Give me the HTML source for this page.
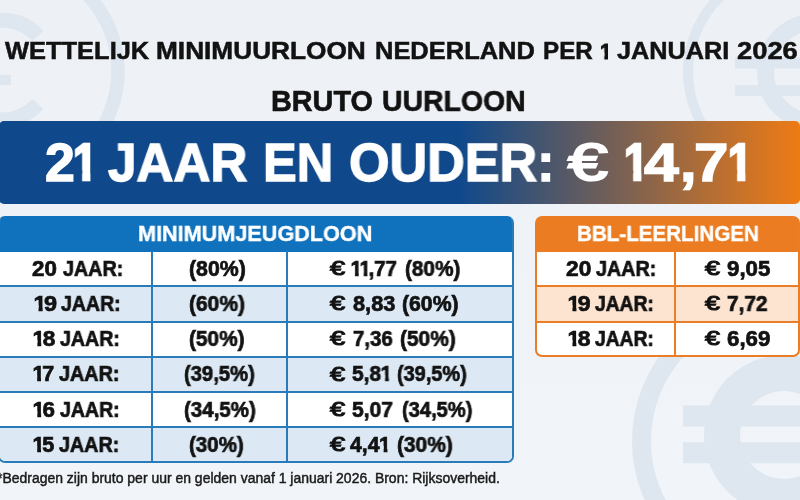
<!DOCTYPE html>
<html lang="nl">
<head>
<meta charset="utf-8">
<title>Wettelijk minimuurloon Nederland per 1 januari 2026</title>
<style>
  html, body { margin: 0; padding: 0; background: #eff2f7; }
  #stage { position: relative; width: 800px; height: 500px; overflow: hidden; background: #eff2f7;
           font-family: "Liberation Sans", sans-serif; }
  #stage > * { position: absolute; }
  .g { left: 0; top: 0; margin: 0; padding: 0; font: inherit; }
  .t { position: absolute; line-height: 1; white-space: nowrap; transform-origin: 0 0; will-change: transform; }
  .o { display: inline-block; font-weight: inherit; margin-right: -0.11em; margin-left: -0.02em;
       clip-path: polygon(0 -10%, 0.392em -10%, 0.392em 110%, 0.214em 110%, 0.214em 0.56em, 0 0.56em); }
  svg.wm { left: 0; top: 0; width: 800px; height: 500px; }
  .banner { left: -1px; top: 121px; width: 800.5px; height: 82.5px; border-radius: 5px;
            background: linear-gradient(90deg, #10498b 0%, #10498b 57.5%, #ee7b15 100%); }
  .tbl { box-sizing: border-box; background: #fff; overflow: hidden; }
  .tbl > i { position: absolute; display: block; }
  .tl { left: -2px; top: 215.7px; width: 515.8px; height: 247.6px; border: 2.1px solid #2a7bb9; border-top-color: #1072bd; border-radius: 7px;
        background: linear-gradient(#1072bd 0, #1072bd 33.9px, #fff 33.9px); }
  .tr { left: 534.8px; top: 215.7px; width: 265px; height: 141px; border: 2.1px solid #ea7d25; border-radius: 7px;
        background: linear-gradient(#ec7c22 0, #ec7c22 33.9px, #fff 33.9px); }
</style>
</head>
<body>
<div id="stage">
  <svg class="wm" viewBox="0 0 800 500" aria-hidden="true">
    <defs>
      <linearGradient id="bgg" x1="0" y1="0" x2="0" y2="1">
        <stop offset="0" stop-color="#edf1f6"/><stop offset="1" stop-color="#f1f4f8"/>
      </linearGradient>
    </defs>
    <rect width="800" height="500" fill="url(#bgg)"/>
    <!-- top-left euro coin -->
    <g fill="none" stroke="#dee6ef">
      <circle cx="8" cy="71" r="110" stroke-width="13.5"/>
      <path d="M 38 36 A 50 50 0 1 0 38 104" stroke-width="15"/>
      <path d="M -40 80 H 11" stroke-width="10"/>
    </g>
    <!-- top-right euro coin -->
    <g fill="none" stroke="#dee6ef">
      <circle cx="792" cy="72" r="104" stroke-width="10"/>
      <path d="M 841 29 A 50 50 0 1 0 841 115" stroke-width="17"/>
      <path d="M 735 63 H 800 M 735 90.5 H 800" stroke-width="11"/>
    </g>
    <!-- bottom-right euro coin -->
    <g fill="none" stroke="#dee6ef">
      <circle cx="777" cy="441" r="135.5" stroke-width="19"/>
      <path d="M 815 381.3 A 62 62 0 1 0 815 488.7" stroke-width="36"/>
      <path d="M 683 416 H 800 M 683 452.7 H 800" stroke-width="21"/>
    </g>
  </svg>

  <div class="banner"></div>

  <div class="tbl tl">
    <i style="left:0;top:68.7px;width:520px;height:35.5px;background:#dce9f4"></i>
    <i style="left:0;top:138.9px;width:520px;height:35.8px;background:#dce9f4"></i>
    <i style="left:0;top:209.7px;width:520px;height:36px;background:#dce9f4"></i>
    <i style="left:0;top:67.75px;width:520px;height:2px;background:#2a7bb9"></i>
    <i style="left:0;top:103.35px;width:520px;height:2px;background:#2a7bb9"></i>
    <i style="left:0;top:138.05px;width:520px;height:2px;background:#2a7bb9"></i>
    <i style="left:0;top:173.75px;width:520px;height:2px;background:#2a7bb9"></i>
    <i style="left:0;top:208.75px;width:520px;height:2px;background:#2a7bb9"></i>
    <i style="left:151.4px;top:33.7px;width:2px;height:220px;background:#2a7bb9"></i>
    <i style="left:286.3px;top:33.7px;width:2px;height:220px;background:#2a7bb9"></i>
  </div>

  <div class="tbl tr">
    <i style="left:0;top:68.7px;width:270px;height:35.5px;background:#fce4d1"></i>
    <i style="left:0;top:67.75px;width:270px;height:2px;background:#ea7d25"></i>
    <i style="left:0;top:103.35px;width:270px;height:2px;background:#ea7d25"></i>
    <i style="left:137.4px;top:33.7px;width:2px;height:110px;background:#ea7d25"></i>
  </div>

<h1 class="g title"><span class="t" id="tw0" style="left:5.00px;top:39.93px;font-size:23.69px;font-weight:700;color:#121212;-webkit-text-stroke:0.5px #121212;transform:scaleX(1.0746)">WETTELIJK</span> <span class="t" id="tw1" style="left:156.17px;top:39.93px;font-size:23.69px;font-weight:700;color:#121212;-webkit-text-stroke:0.5px #121212;transform:scaleX(1.1070)">MINIMUURLOON</span> <span class="t" id="tw2" style="left:374.65px;top:39.93px;font-size:23.69px;font-weight:700;color:#121212;-webkit-text-stroke:0.5px #121212;transform:scaleX(1.0749)">NEDERLAND</span> <span class="t" id="tw3" style="left:543.23px;top:39.93px;font-size:23.69px;font-weight:700;color:#121212;-webkit-text-stroke:0.5px #121212;transform:scaleX(1.0213)">PER</span> <span class="t" id="tw4" style="left:599.84px;top:40.29px;font-size:22.97px;font-weight:700;color:#121212;-webkit-text-stroke:1.0px #121212;clip-path:polygon(0.57px -2.00px,9.01px -2.00px,9.01px 24.97px,4.86px 24.97px,4.86px 12.60px,0.57px 12.60px);transform:scaleX(0.8828)">1</span> <span class="t" id="tw5" style="left:617.27px;top:39.93px;font-size:23.69px;font-weight:700;color:#121212;-webkit-text-stroke:0.5px #121212;transform:scaleX(1.0673)">JANUARI</span> <span class="t" id="tw6" style="left:737.26px;top:39.93px;font-size:23.69px;font-weight:700;color:#121212;-webkit-text-stroke:0.5px #121212;transform:scaleX(1.1542)">2026</span></h1>
<h2 class="g subtitle"><span class="t" id="sub0" style="left:270.99px;top:86.90px;font-size:28.63px;font-weight:700;color:#121212;-webkit-text-stroke:0.6px #121212;transform:scaleX(1.0061)">BRUTO</span> <span class="t" id="sub1" style="left:382.01px;top:86.90px;font-size:28.63px;font-weight:700;color:#121212;-webkit-text-stroke:0.6px #121212;transform:scaleX(0.9930)">UURLOON</span></h2>
<p class="g headline"><span class="t" id="bw0" style="left:44.98px;top:135.88px;font-size:53.63px;font-weight:700;color:#ffffff;-webkit-text-stroke:1.4px #ffffff;transform:scaleX(1.0007)">2</span><span class="t" id="bw1" style="left:73.31px;top:136.75px;font-size:51.89px;font-weight:700;color:#ffffff;-webkit-text-stroke:2.6px #ffffff;clip-path:polygon(0.95px -2.00px,20.53px -2.00px,20.53px 53.89px,10.81px 53.89px,10.81px 33.34px,0.95px 33.34px);transform:scaleX(0.8459)">1</span> <span class="t" id="bw2" style="left:107.98px;top:135.88px;font-size:53.63px;font-weight:700;color:#ffffff;-webkit-text-stroke:1.4px #ffffff;transform:scaleX(0.9548)">JAAR</span> <span class="t" id="bw3" style="left:263.17px;top:135.88px;font-size:53.63px;font-weight:700;color:#ffffff;-webkit-text-stroke:1.4px #ffffff;transform:scaleX(0.9420)">EN</span> <span class="t" id="bw4" style="left:349.03px;top:135.88px;font-size:53.63px;font-weight:700;color:#ffffff;-webkit-text-stroke:1.4px #ffffff;transform:scaleX(0.9709)">OUDER:</span> <span class="t" id="bw5" style="left:568.36px;top:136.46px;font-size:52.47px;font-weight:400;color:#ffffff;-webkit-text-stroke:2.2px #ffffff;transform:scaleX(1.3556)">€</span> <span class="t" id="bw6" style="left:623.85px;top:136.75px;font-size:51.89px;font-weight:700;color:#ffffff;-webkit-text-stroke:2.6px #ffffff;clip-path:polygon(0.95px -2.00px,20.53px -2.00px,20.53px 53.89px,10.81px 53.89px,10.81px 33.34px,0.95px 33.34px);transform:scaleX(0.8459)">1</span><span class="t" id="bw7" style="left:643.70px;top:135.88px;font-size:53.63px;font-weight:700;color:#ffffff;-webkit-text-stroke:1.4px #ffffff;transform:scaleX(1.1670)">4</span><span class="t" id="bw8" style="left:680.39px;top:135.88px;font-size:53.63px;font-weight:700;color:#ffffff;-webkit-text-stroke:1.4px #ffffff;transform:scaleX(1.1111)">,</span><span class="t" id="bw9" style="left:693.98px;top:135.88px;font-size:53.63px;font-weight:700;color:#ffffff;-webkit-text-stroke:1.4px #ffffff;transform:scaleX(1.1543)">7</span><span class="t" id="bw10" style="left:728.31px;top:136.75px;font-size:51.89px;font-weight:700;color:#ffffff;-webkit-text-stroke:2.6px #ffffff;clip-path:polygon(0.95px -2.00px,20.53px -2.00px,20.53px 53.89px,10.81px 53.89px,10.81px 33.34px,0.95px 33.34px);transform:scaleX(0.8439)">1</span></p>
<h3 class="g head-left"><span class="t" id="h1" style="left:137.54px;top:222.79px;font-size:22.38px;font-weight:700;color:#ffffff;-webkit-text-stroke:0.4px #ffffff;transform:scaleX(0.9667)">MINIMUMJEUGDLOON</span></h3>
<h3 class="g head-right"><span class="t" id="h2" style="left:576.60px;top:222.79px;font-size:22.38px;font-weight:700;color:#ffffff;-webkit-text-stroke:0.4px #ffffff;transform:scaleX(0.9200)">BBL-LEERLINGEN</span></h3>
<p class="g row-left-0"><span class="t" id="n0" style="left:31.97px;top:257.72px;font-size:21.22px;font-weight:700;color:#121212;-webkit-text-stroke:0.7px #121212;transform:scaleX(1.0526)">20</span> <span class="t" id="j0" style="left:63.03px;top:257.72px;font-size:21.22px;font-weight:700;color:#121212;-webkit-text-stroke:0.7px #121212;transform:scaleX(0.9303)">JAAR:</span> <span class="t" id="p0" style="left:189.00px;top:257.72px;font-size:21.22px;font-weight:700;color:#121212;-webkit-text-stroke:0.7px #121212;transform:scaleX(1.0037)">(80%)</span> <span class="t" id="e0" style="left:329.95px;top:258.01px;font-size:20.64px;font-weight:400;color:#121212;-webkit-text-stroke:1.1px #121212;transform:scaleX(1.3180)">€</span> <span class="t" id="a0" style="left:351.03px;top:257.72px;font-size:21.22px;font-weight:700;color:#121212;-webkit-text-stroke:0.7px #121212;transform:scaleX(0.9654)"><b class="o">1</b><b class="o">1</b>,77</span> <span class="t" id="q0" style="left:405.02px;top:257.72px;font-size:21.22px;font-weight:700;color:#121212;-webkit-text-stroke:0.7px #121212;transform:scaleX(0.9783)">(80%)</span></p>
<p class="g row-left-1"><span class="t" id="n1" style="left:33.82px;top:292.92px;font-size:21.22px;font-weight:700;color:#121212;-webkit-text-stroke:0.7px #121212;transform:scaleX(1.1076)"><b class="o">1</b>9</span> <span class="t" id="j1" style="left:61.00px;top:292.92px;font-size:21.22px;font-weight:700;color:#121212;-webkit-text-stroke:0.7px #121212;transform:scaleX(0.9206)">JAAR:</span> <span class="t" id="p1" style="left:189.01px;top:292.92px;font-size:21.22px;font-weight:700;color:#121212;-webkit-text-stroke:0.7px #121212;transform:scaleX(0.9892)">(60%)</span> <span class="t" id="e1" style="left:329.95px;top:293.21px;font-size:20.64px;font-weight:400;color:#121212;-webkit-text-stroke:1.1px #121212;transform:scaleX(1.3180)">€</span> <span class="t" id="a1" style="left:353.00px;top:292.92px;font-size:21.22px;font-weight:700;color:#121212;-webkit-text-stroke:0.7px #121212;transform:scaleX(1.0244)">8,83</span> <span class="t" id="q1" style="left:402.01px;top:292.92px;font-size:21.22px;font-weight:700;color:#121212;-webkit-text-stroke:0.7px #121212;transform:scaleX(0.9928)">(60%)</span></p>
<p class="g row-left-2"><span class="t" id="n2" style="left:32.93px;top:328.12px;font-size:21.22px;font-weight:700;color:#121212;-webkit-text-stroke:0.7px #121212;transform:scaleX(1.0708)"><b class="o">1</b>8</span> <span class="t" id="j2" style="left:60.01px;top:328.12px;font-size:21.22px;font-weight:700;color:#121212;-webkit-text-stroke:0.7px #121212;transform:scaleX(0.9239)">JAAR:</span> <span class="t" id="p2" style="left:189.02px;top:328.12px;font-size:21.22px;font-weight:700;color:#121212;-webkit-text-stroke:0.7px #121212;transform:scaleX(0.9820)">(50%)</span> <span class="t" id="e2" style="left:329.95px;top:328.41px;font-size:20.64px;font-weight:400;color:#121212;-webkit-text-stroke:1.1px #121212;transform:scaleX(1.3180)">€</span> <span class="t" id="a2" style="left:353.00px;top:328.12px;font-size:21.22px;font-weight:700;color:#121212;-webkit-text-stroke:0.7px #121212;transform:scaleX(0.9612)">7,36</span> <span class="t" id="q2" style="left:400.02px;top:328.12px;font-size:21.22px;font-weight:700;color:#121212;-webkit-text-stroke:0.7px #121212;transform:scaleX(0.9856)">(50%)</span></p>
<p class="g row-left-3"><span class="t" id="n3" style="left:32.99px;top:363.32px;font-size:21.22px;font-weight:700;color:#121212;-webkit-text-stroke:0.7px #121212;transform:scaleX(1.0112)"><b class="o">1</b>7</span> <span class="t" id="j3" style="left:58.97px;top:363.32px;font-size:21.22px;font-weight:700;color:#121212;-webkit-text-stroke:0.7px #121212;transform:scaleX(0.9334)">JAAR:</span> <span class="t" id="p3" style="left:184.05px;top:363.32px;font-size:21.22px;font-weight:700;color:#121212;-webkit-text-stroke:0.7px #121212;transform:scaleX(0.9535)">(39,5%)</span> <span class="t" id="e3" style="left:329.95px;top:363.61px;font-size:20.64px;font-weight:400;color:#121212;-webkit-text-stroke:1.1px #121212;transform:scaleX(1.3180)">€</span> <span class="t" id="a3" style="left:351.99px;top:363.32px;font-size:21.22px;font-weight:700;color:#121212;-webkit-text-stroke:0.7px #121212;transform:scaleX(0.9843)">5,8<b class="o">1</b></span> <span class="t" id="q3" style="left:397.05px;top:363.32px;font-size:21.22px;font-weight:700;color:#121212;-webkit-text-stroke:0.7px #121212;transform:scaleX(0.9398)">(39,5%)</span></p>
<p class="g row-left-4"><span class="t" id="n4" style="left:32.94px;top:398.52px;font-size:21.22px;font-weight:700;color:#121212;-webkit-text-stroke:0.7px #121212;transform:scaleX(1.0550)"><b class="o">1</b>6</span> <span class="t" id="j4" style="left:60.02px;top:398.52px;font-size:21.22px;font-weight:700;color:#121212;-webkit-text-stroke:0.7px #121212;transform:scaleX(0.9208)">JAAR:</span> <span class="t" id="p4" style="left:184.04px;top:398.52px;font-size:21.22px;font-weight:700;color:#121212;-webkit-text-stroke:0.7px #121212;transform:scaleX(0.9671)">(34,5%)</span> <span class="t" id="e4" style="left:329.95px;top:398.81px;font-size:20.64px;font-weight:400;color:#121212;-webkit-text-stroke:1.1px #121212;transform:scaleX(1.3180)">€</span> <span class="t" id="a4" style="left:352.00px;top:398.52px;font-size:21.22px;font-weight:700;color:#121212;-webkit-text-stroke:0.7px #121212;transform:scaleX(0.9903)">5,07</span> <span class="t" id="q4" style="left:402.05px;top:398.52px;font-size:21.22px;font-weight:700;color:#121212;-webkit-text-stroke:0.7px #121212;transform:scaleX(0.9480)">(34,5%)</span></p>
<p class="g row-left-5"><span class="t" id="n5" style="left:32.98px;top:433.72px;font-size:21.22px;font-weight:700;color:#121212;-webkit-text-stroke:0.7px #121212;transform:scaleX(1.0209)"><b class="o">1</b>5</span> <span class="t" id="j5" style="left:58.97px;top:433.72px;font-size:21.22px;font-weight:700;color:#121212;-webkit-text-stroke:0.7px #121212;transform:scaleX(0.9302)">JAAR:</span> <span class="t" id="p5" style="left:189.01px;top:433.72px;font-size:21.22px;font-weight:700;color:#121212;-webkit-text-stroke:0.7px #121212;transform:scaleX(0.9674)">(30%)</span> <span class="t" id="e5" style="left:329.95px;top:434.01px;font-size:20.64px;font-weight:400;color:#121212;-webkit-text-stroke:1.1px #121212;transform:scaleX(1.3180)">€</span> <span class="t" id="a5" style="left:350.48px;top:433.72px;font-size:21.22px;font-weight:700;color:#121212;-webkit-text-stroke:0.7px #121212;transform:scaleX(1.0007)">4,4<b class="o">1</b></span> <span class="t" id="q5" style="left:397.01px;top:433.72px;font-size:21.22px;font-weight:700;color:#121212;-webkit-text-stroke:0.7px #121212;transform:scaleX(0.9856)">(30%)</span></p>
<p class="g row-right-0"><span class="t" id="rn0" style="left:566.00px;top:257.72px;font-size:21.22px;font-weight:700;color:#121212;-webkit-text-stroke:0.7px #121212;transform:scaleX(1.0702)">20</span> <span class="t" id="rj0" style="left:596.00px;top:257.72px;font-size:21.22px;font-weight:700;color:#121212;-webkit-text-stroke:0.7px #121212;transform:scaleX(0.9303)">JAAR:</span> <span class="t" id="re0" style="left:704.96px;top:258.01px;font-size:20.64px;font-weight:400;color:#121212;-webkit-text-stroke:1.1px #121212;transform:scaleX(1.3020)">€</span> <span class="t" id="ra0" style="left:727.00px;top:257.72px;font-size:21.22px;font-weight:700;color:#121212;-webkit-text-stroke:0.7px #121212;transform:scaleX(1.0488)">9,05</span></p>
<p class="g row-right-1"><span class="t" id="rn1" style="left:567.85px;top:292.92px;font-size:21.22px;font-weight:700;color:#121212;-webkit-text-stroke:0.7px #121212;transform:scaleX(1.0860)"><b class="o">1</b>9</span> <span class="t" id="rj1" style="left:594.98px;top:292.92px;font-size:21.22px;font-weight:700;color:#121212;-webkit-text-stroke:0.7px #121212;transform:scaleX(0.9080)">JAAR:</span> <span class="t" id="re1" style="left:704.96px;top:293.21px;font-size:20.64px;font-weight:400;color:#121212;-webkit-text-stroke:1.1px #121212;transform:scaleX(1.3020)">€</span> <span class="t" id="ra1" style="left:727.00px;top:292.92px;font-size:21.22px;font-weight:700;color:#121212;-webkit-text-stroke:0.7px #121212;transform:scaleX(0.9808)">7,72</span></p>
<p class="g row-right-2"><span class="t" id="rn2" style="left:567.91px;top:328.12px;font-size:21.22px;font-weight:700;color:#121212;-webkit-text-stroke:0.7px #121212;transform:scaleX(1.0808)"><b class="o">1</b>8</span> <span class="t" id="rj2" style="left:594.98px;top:328.12px;font-size:21.22px;font-weight:700;color:#121212;-webkit-text-stroke:0.7px #121212;transform:scaleX(0.9080)">JAAR:</span> <span class="t" id="re2" style="left:704.96px;top:328.41px;font-size:20.64px;font-weight:400;color:#121212;-webkit-text-stroke:1.1px #121212;transform:scaleX(1.3020)">€</span> <span class="t" id="ra2" style="left:727.00px;top:328.12px;font-size:21.22px;font-weight:700;color:#121212;-webkit-text-stroke:0.7px #121212;transform:scaleX(1.0488)">6,69</span></p>
<p class="g footnote"><span class="t" id="foot" style="left:-3.00px;top:472.05px;font-size:13.88px;font-weight:400;color:#1a1a1a;-webkit-text-stroke:0.45px #1a1a1a;transform:scaleX(1.0060)">*Bedragen zijn bruto per uur en gelden vanaf 1 januari 2026. Bron: Rijksoverheid.</span></p>
</div>
</body>
</html>
